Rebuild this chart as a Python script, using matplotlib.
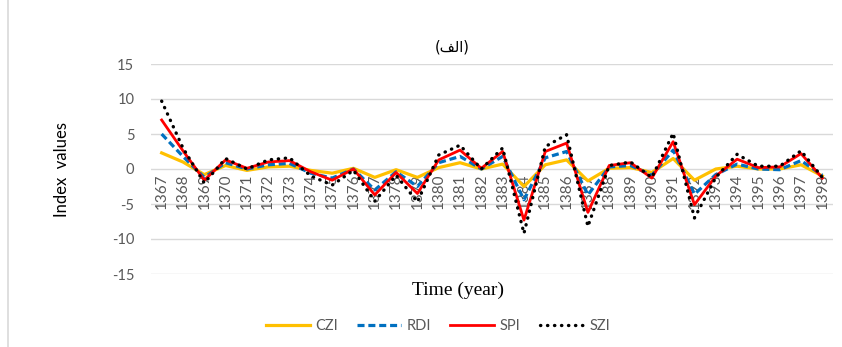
import matplotlib
matplotlib.use("Agg")
import matplotlib.pyplot as plt
from matplotlib.lines import Line2D

years = [str(y) for y in range(1367, 1399)]
czi = [2.3, 1.0, -0.8, 0.5, -0.2, 0.3, 0.4, -0.2, -0.6, 0.1, -1.2, -0.1, -1.2, 0.2, 0.9, 0.0,
       0.7, -2.5, 0.6, 1.3, -1.7, 0.1, 0.2, -0.5, 1.5, -1.6, 0.0, 0.4, 0.0, 0.0, 0.6, -1.0]
rdi = [5.0, 1.8, -1.2, 0.9, 0.0, 0.6, 0.8, -0.6, -1.3, 0.0, -3.0, -0.4, -2.5, 0.9, 1.8, 0.0,
       1.8, -4.4, 1.6, 2.5, -3.7, 0.3, 0.5, -0.9, 2.7, -3.6, -0.8, 0.7, 0.0, -0.1, 1.2, -0.9]
spi = [7.0, 2.6, -1.6, 1.3, 0.1, 1.0, 1.2, -0.4, -1.6, 0.0, -3.7, -0.5, -3.5, 1.3, 2.7, 0.1,
       2.5, -7.3, 2.5, 3.7, -6.2, 0.5, 0.9, -1.3, 3.9, -5.1, -1.0, 1.4, 0.2, 0.3, 2.2, -1.3]
szi = [9.7, 3.0, -2.0, 1.5, 0.0, 1.3, 1.6, -1.0, -2.3, -0.2, -4.6, -0.9, -4.7, 2.0, 3.4, 0.0,
       3.0, -9.2, 3.2, 4.9, -8.2, 0.5, 1.0, -1.2, 5.1, -7.0, -1.2, 2.1, 0.4, 0.4, 2.6, -1.2]
series_names = ["CZI", "RDI", "SPI", "SZI"]
y_ticks = [-15, -10, -5, 0, 5, 10, 15]

W, H = 842, 347
fig = plt.figure(figsize=(W / 100, H / 100), dpi=100)
ax = fig.add_axes([151 / W, 1 - 274 / H, (833 - 151) / W, (274 - 64) / H])

x = list(range(len(years)))
gray = "#595959"
grid = "#d9d9d9"

ax.set_ylim(-15, 15)
ax.set_xlim(-0.5, len(years) - 0.5)
ax.set_yticks(y_ticks)
ax.set_yticklabels([str(t) for t in y_ticks], fontsize=10.5, color=gray, family="Lato")
ax.tick_params(axis="y", length=0, pad=12)
ax.set_xticks([])
for t in y_ticks:
    ax.axhline(t, color=grid, lw=1.0, zorder=0)
for s in ax.spines.values():
    s.set_visible(False)

for i, yl in enumerate(years):
    ax.annotate(yl, (i, 0), xytext=(0, -3), textcoords="offset points",
                rotation=90, ha="center", va="top", fontsize=11, color=gray,
                family="Lato", zorder=1)

ax.plot(x, czi, color="#FFC000", lw=2.3, label=series_names[0], zorder=3,
        solid_joinstyle="round")
ax.plot(x, rdi, color="#0070C0", lw=2.3, ls=(0, (2.2, 1.2)), label=series_names[1], zorder=4)
ax.plot(x, spi, color="#FF0000", lw=2.0, label=series_names[2], zorder=5,
        solid_joinstyle="round")
ax.plot(x, szi, color="black", lw=2.4, ls=(0, (0.1, 2.0)), dash_capstyle="round",
        label=series_names[3], zorder=6)

fig.text(452 / W, 1 - 47 / H, "(\uFED2\uFEDF\uFE8D)", ha="center", va="center",
         fontsize=10.5, family="DejaVu Sans", color="black")
fig.text(62 / W, 1 - 170 / H, "Index  values", rotation=90, ha="center", va="center",
         fontsize=12, family="Lato", color="black")
fig.text(458 / W, 1 - 290 / H, "Time (year)", ha="center", va="center",
         fontsize=14, family="Liberation Serif", color="black")

leg = fig.legend(loc="center", bbox_to_anchor=(438 / W, 1 - 326 / H), ncol=4,
                 frameon=False, handlelength=3.0, columnspacing=1.3, handletextpad=0.4,
                 prop={"family": "Lato", "size": 10.5})
for t in leg.get_texts():
    t.set_color(gray)

fig.add_artist(Line2D([8 / W, 8 / W], [0, 1], color=grid, lw=1.2, transform=fig.transFigure))

fig.savefig("out.png", dpi=100)
